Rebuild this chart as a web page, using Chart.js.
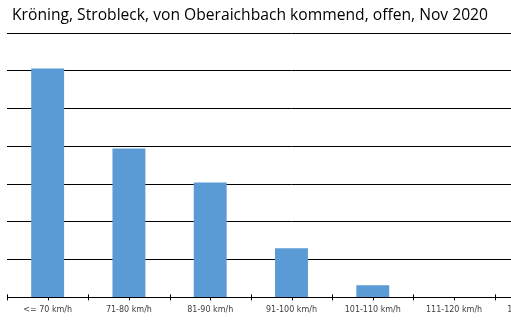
<!DOCTYPE html>
<html>
<head>
<meta charset="utf-8">
<script src="https://cdn.jsdelivr.net/npm/chart.js@4/dist/chart.umd.min.js"></script>
<style>
    html, body { margin: 0; padding: 0; background: #fff; overflow: hidden; }
    #wrap { position: relative; width: 511px; height: 323px; overflow: hidden; }
    #title {
        position: absolute; left: 12px; top: 3px;
        font-family: 'Open Sans', sans-serif; font-size: 15.65px; color: #000;
        white-space: nowrap;
    }
    #chart { position: absolute; left: 0; top: 0; }
</style>
</head>
<body>
<div id="wrap">
    <canvas id="chart" width="580" height="323"></canvas>
    <div id="title">Kröning, Strobleck, von Oberaichbach kommend, offen, Nov 2020</div>
</div>
<script>
const categories = ['<= 70 km/h', '71-80 km/h', '81-90 km/h', '91-100 km/h', '101-110 km/h', '111-120 km/h', '121-130 km/h'];
const counts = [303, 197, 152, 65, 16, 0, 0];
const yMax = 350;
const yStep = 50;

const barColor = '#5b9bd5';
const lineColor = '#000';

// axis ticks: crossing marks between categories, short marks under each category
const axisTicks = {
    id: 'axisTicks',
    afterDraw(chart) {
        const x = chart.scales.x;
        const ctx = chart.ctx;
        const y0 = chart.chartArea.bottom;
        const half = (x.getPixelForValue(1) - x.getPixelForValue(0)) / 2;
        ctx.save();
        ctx.strokeStyle = lineColor;
        ctx.lineWidth = 1;
        ctx.beginPath();
        for (let i = 0; i < categories.length; i++) {
            const c = Math.round(x.getPixelForValue(i)) + 0.5;
            const b = Math.round(x.getPixelForValue(i) - half) + 0.5;
            ctx.moveTo(b, y0 - 3);
            ctx.lineTo(b, y0 + 3);
            ctx.moveTo(c, y0);
            ctx.lineTo(c, y0 + 3);
        }
        ctx.stroke();
        ctx.restore();
    }
};

const chart = new Chart(document.getElementById('chart').getContext('2d'), {
    type: 'bar',
    data: {
        labels: categories,
        datasets: [{
            data: counts,
            backgroundColor: barColor,
            borderWidth: 0,
            categoryPercentage: 1,
            barPercentage: 0.405
        }]
    },
    options: {
        responsive: false,
        animation: false,
        layout: { padding: { left: 7, right: 4, top: 33, bottom: 8 } },
        scales: {
            x: {
                grid: { display: false, tickLength: 8 },
                border: { display: true, color: lineColor, width: 1 },
                ticks: {
                    color: '#404040',
                    font: { family: 'DejaVu Sans', size: 8 },
                    padding: 0,
                    maxRotation: 0,
                    autoSkip: false
                }
            },
            y: {
                min: 0,
                max: yMax,
                grid: { color: lineColor, drawTicks: false },
                border: { display: false },
                ticks: { display: false, stepSize: yStep }
            }
        },
        plugins: {
            legend: { display: false },
            tooltip: { enabled: false }
        }
    },
    plugins: [axisTicks]
});
</script>
</body>
</html>
